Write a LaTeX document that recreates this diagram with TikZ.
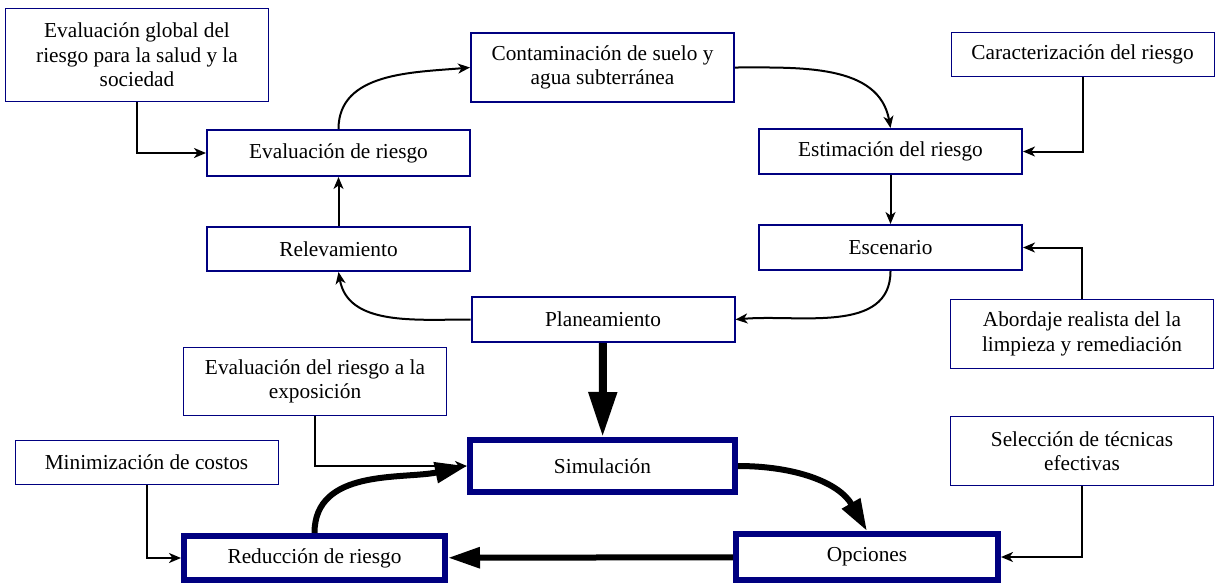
\documentclass[tikz,border=0pt]{standalone}
\usepackage{fontspec}
\setmainfont{Liberation Serif}
\usepackage{xcolor}
\usetikzlibrary{arrows.meta}
\definecolor{navy}{RGB}{0,0,128}

\begin{document}
\begin{tikzpicture}[
  x=1pt, y=1pt,
  box/.style={draw=navy, align=center, inner sep=0pt, minimum width=263pt,
              font=\fontsize{21.3}{24.5}\selectfont},
  note/.style={box, line width=1pt},
  stage/.style={box, line width=2pt},
  main/.style={box, line width=6pt},
  flow/.style={-{Stealth[length=12pt, width=10pt, inset=3.5pt]}, line width=2pt},
  bigflow/.style={-{Triangle[length=32pt, width=20pt]}, line width=6pt}
]
  \useasboundingbox (0,0) rectangle (1215,-584);

  % cycle
  \node[note, minimum height=93pt]  (glob) at (137,-55)      {Evaluación global del\\riesgo para la salud y la\\sociedad};
  \node[stage, minimum height=69pt] (cont) at (602.5,-67.5)  {Contaminación de suelo y\\agua subterránea};
  \node[note, minimum height=44pt]  (car)  at (1082.5,-54.5) {Caracterización del riesgo};
  \node[stage, minimum height=46pt] (evr)  at (338.5,-153)   {Evaluación de riesgo};
  \node[stage, minimum height=45pt] (est)  at (890.5,-151.5) {Estimación del riesgo};
  \node[stage, minimum height=44pt] (rel)  at (338.5,-249)   {Relevamiento};
  \node[stage, minimum height=45pt] (esc)  at (890.5,-247.5) {Escenario};
  \node[stage, minimum height=45pt] (plan) at (603,-319.5)   {Planeamiento};
  \node[note, minimum height=69pt]  (abo)  at (1082,-334)    {Abordaje realista del la\\limpieza y remediación};

  % lower loop
  \node[note, minimum height=68pt]  (expo) at (315,-381.5)   {Evaluación del riesgo a la\\exposición};
  \node[note, minimum height=44pt]  (mini) at (146.5,-462.5) {Minimización de costos};
  \node[main, minimum width=265pt, minimum height=52pt] (sim) at (602.5,-466) {Simulación};
  \node[note, minimum height=69pt]  (sel)  at (1082,-451)    {Selección de técnicas\\efectivas};
  \node[main, minimum width=261pt, minimum height=44pt] (red) at (314.5,-558) {Reducción de riesgo};
  \node[main, minimum width=262pt, minimum height=46pt] (opc) at (867,-557)   {Opciones};

  \draw[flow] (evr.north) to[out=90, in=185] (cont.west);
  \draw[flow] (cont.east) to[out=0, in=100] (est.north);
  \draw[flow] (est) -- (esc);
  \draw[flow] (esc.south) to[out=-90, in=5] (plan.east);
  \draw[flow] (plan.west) to[out=180, in=-80] (rel.south);
  \draw[flow] (rel) -- (evr);
  \draw[flow] (glob.south) |- (evr.west);
  \draw[flow] (car.south) |- (est.east);
  \draw[flow] (abo.north) |- (esc.east);
  \draw[flow] (sel.south) |- (opc.east);
  \draw[flow] (expo.south) |- (sim.west);
  \draw[flow] (mini.south) |- (red.west);

  \draw[bigflow, line width=8pt, -{Triangle[length=45pt, width=27pt]}] (plan) -- (sim);
  \draw[bigflow] (sim.east) to[out=0, in=120] (opc.north);
  \draw[bigflow] (opc) -- (red);
  \draw[bigflow] (red.north) to[out=90, in=192] (sim.west);
\end{tikzpicture}
\end{document}
